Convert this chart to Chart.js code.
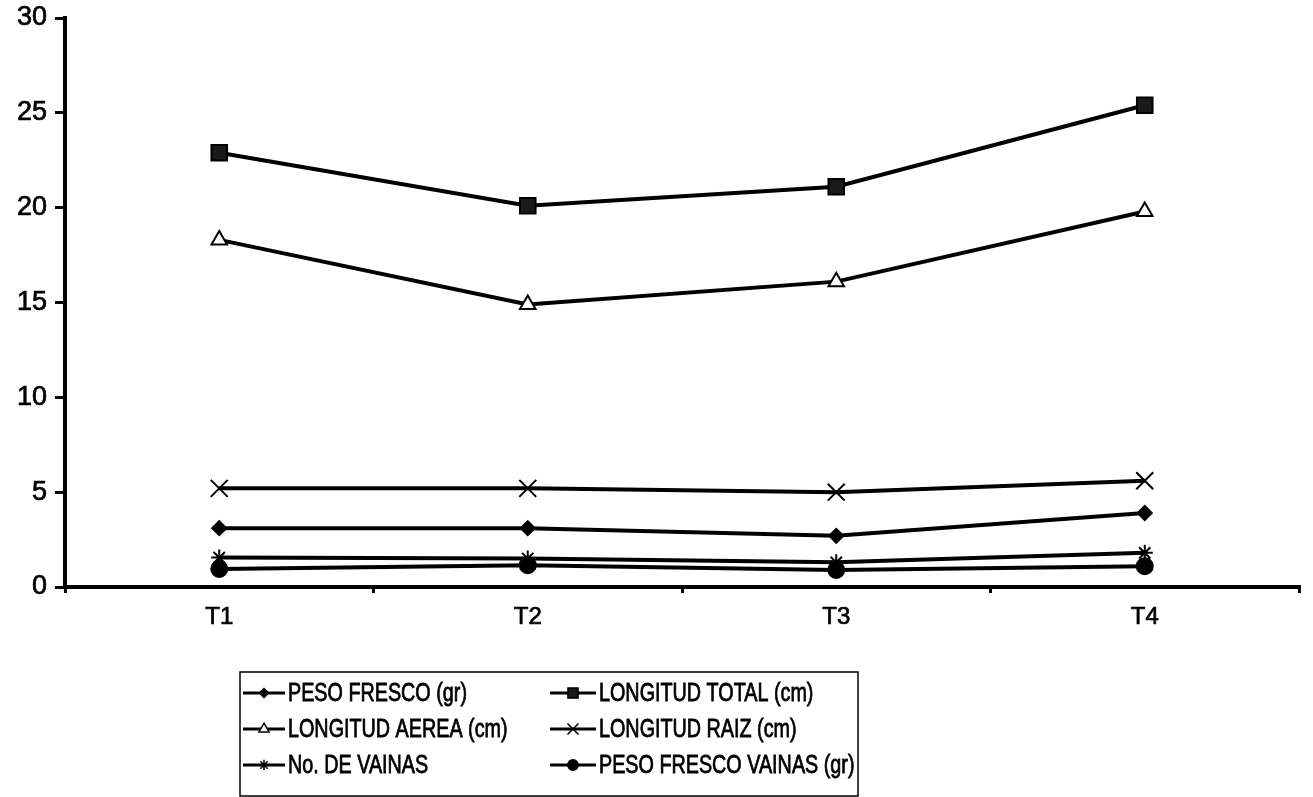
<!DOCTYPE html>
<html>
<head>
<meta charset="utf-8">
<script src="https://cdn.jsdelivr.net/npm/chart.js@4"></script>
<style>
  html, body { margin: 0; padding: 0; background: #fff; }
  #wrap { width: 1313px; height: 797px; }
</style>
</head>
<body>
<div id="wrap"><canvas id="lineChart" width="1313" height="797"></canvas></div>
<script>
const categories = ['T1', 'T2', 'T3', 'T4'];
const yTicks = [0, 5, 10, 15, 20, 25, 30];

const pesoFresco = [3.1, 3.1, 2.7, 3.9];
const longitudTotal = [22.9, 20.1, 21.1, 25.4];
const longitudAerea = [18.3, 14.9, 16.1, 19.8];
const longitudRaiz = [5.2, 5.2, 5.0, 5.6];
const noVainas = [1.55, 1.5, 1.3, 1.8];
const pesoFrescoVainas = [0.95, 1.15, 0.9, 1.1];

const seriesNames = [
    'PESO FRESCO (gr)', 'LONGITUD TOTAL (cm)',
    'LONGITUD AEREA (cm)', 'LONGITUD RAIZ (cm)',
    'No. DE VAINAS', 'PESO FRESCO VAINAS (gr)'
];

const FONT = '"Liberation Sans", Arial, sans-serif';

function makeSet(label, data, style, radius, fill) {
    return {
        label: label,
        data: data,
        borderColor: '#000',
        borderWidth: 4,
        pointStyle: style,
        pointRadius: radius,
        pointHoverRadius: radius,
        pointBackgroundColor: fill,
        pointBorderColor: '#000',
        pointBorderWidth: 2,
        tension: 0,
        fill: false
    };
}

// legend drawn by hand: boxed, two columns, row-major order
const boxLegend = {
    id: 'boxLegend',
    afterDraw(chart) {
        const ctx = chart.ctx;
        const left = 240, top = 672, width = 618, height = 124;
        ctx.save();
        ctx.strokeStyle = '#000';
        ctx.lineWidth = 1.5;
        ctx.strokeRect(left, top, width, height);
        ctx.font = '26px ' + FONT;
        ctx.textBaseline = 'middle';
        chart.data.datasets.forEach((ds, i) => {
            const col = i % 2;
            const row = Math.floor(i / 2);
            const x0 = col === 0 ? 243 : 550;
            const textX = col === 0 ? 288 : 599;
            const y = top + 21 + row * 36;
            ctx.strokeStyle = '#000';
            ctx.lineWidth = 3;
            ctx.beginPath();
            ctx.moveTo(x0, y);
            ctx.lineTo(textX - 3, y);
            ctx.stroke();
            ctx.fillStyle = ds.pointBackgroundColor;
            ctx.lineWidth = 1.5;
            Chart.helpers.drawPoint(ctx, {
                pointStyle: ds.pointStyle,
                radius: ds.pointRadius * 0.65,
                rotation: 0,
                borderWidth: 1.5
            }, (x0 + textX - 3) / 2, y);
            // squeeze the text a little, the scan's lettering is tall and narrow
            ctx.save();
            ctx.translate(textX, y + 1);
            ctx.scale(0.76, 1);
            ctx.fillStyle = '#000';
            ctx.lineWidth = 0.8;
            ctx.fillText(ds.label, 0, 0);
            ctx.strokeText(ds.label, 0, 0);
            ctx.restore();
        });
        ctx.restore();
    }
};

const ctx = document.getElementById('lineChart').getContext('2d');
new Chart(ctx, {
    type: 'line',
    data: {
        labels: categories,
        datasets: [
            makeSet(seriesNames[0], pesoFresco, 'rectRot', 7, '#000'),
            makeSet(seriesNames[1], longitudTotal, 'rect', 11, '#1a1a1a'),
            makeSet(seriesNames[2], longitudAerea, 'triangle', 9, '#fff'),
            makeSet(seriesNames[3], longitudRaiz, 'crossRot', 12, '#000'),
            makeSet(seriesNames[4], noVainas, 'star', 8, '#000'),
            makeSet(seriesNames[5], pesoFrescoVainas, 'circle', 8, '#000')
        ]
    },
    options: {
        responsive: false,
        animation: false,
        layout: { padding: { top: 18, right: 0, bottom: 140, left: 0 } },
        plugins: {
            legend: { display: false },
            tooltip: { enabled: false }
        },
        scales: {
            x: {
                offset: true,
                grid: {
                    display: true,
                    offset: true,
                    drawOnChartArea: false,
                    color: '#000',
                    lineWidth: 3,
                    tickLength: 6
                },
                border: { display: true, color: '#000', width: 4 },
                ticks: {
                    color: '#000',
                    font: { family: FONT, size: 24 },
                    textStrokeColor: '#000',
                    textStrokeWidth: 0.7,
                    padding: 10
                },
                afterFit(scale) { scale.height = 797 - 587 - 140; }
            },
            y: {
                min: 0,
                max: 30,
                afterBuildTicks(scale) { scale.ticks = yTicks.map(v => ({ value: v })); },
                grid: {
                    display: true,
                    drawOnChartArea: false,
                    color: '#000',
                    lineWidth: 3,
                    tickLength: 10
                },
                border: { display: true, color: '#000', width: 4 },
                ticks: {
                    color: '#000',
                    font: { family: FONT, size: 27 },
                    textStrokeColor: '#000',
                    textStrokeWidth: 0.7,
                    padding: 8
                },
                afterFit(scale) {
                    scale.width = 65;
                    scale.paddingTop = 0;
                    scale.paddingBottom = 0;
                }
            }
        }
    },
    plugins: [boxLegend]
});
</script>
</body>
</html>
